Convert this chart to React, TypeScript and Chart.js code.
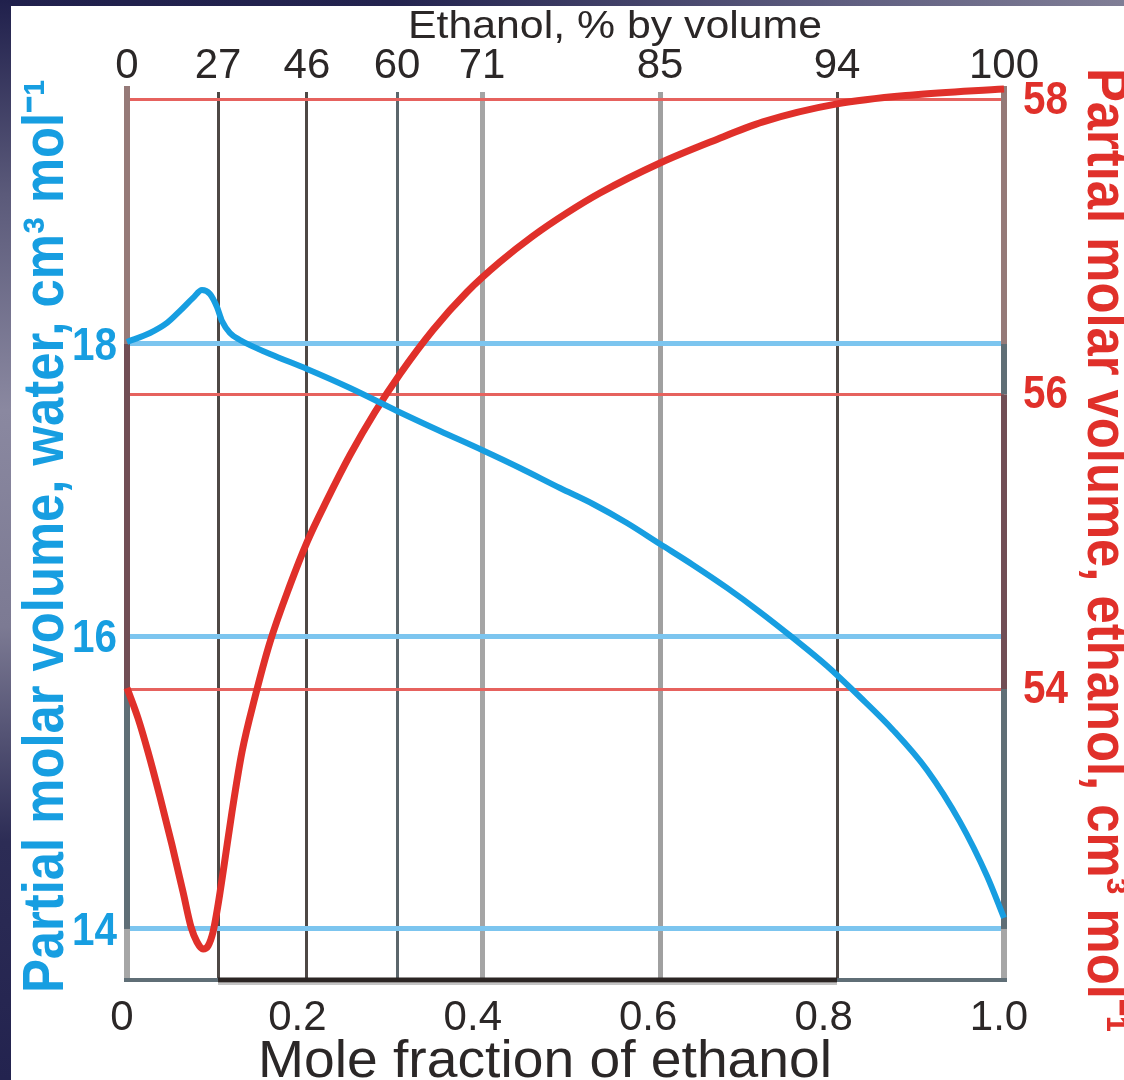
import React, { useEffect, useRef } from "react";
import { Chart, registerables } from "chart.js";

Chart.register(...registerables);

// ---- data ----
const WATER_X = [0, 0.0262, 0.0456, 0.0604, 0.0753, 0.0855, 0.0946, 0.1026, 0.1083, 0.1174, 0.1288, 0.1631, 0.2052, 0.2543, 0.3079, 0.3569, 0.4048, 0.4481, 0.4937, 0.5314, 0.5701, 0.6078, 0.6454, 0.6842, 0.7218, 0.7594, 0.7982, 0.8358, 0.8734, 0.9122, 0.9498, 0.9806, 1.0];
const WATER_V = [18.014, 18.075, 18.144, 18.226, 18.315, 18.369, 18.342, 18.253, 18.157, 18.075, 18.027, 17.932, 17.829, 17.699, 17.542, 17.405, 17.275, 17.152, 17.015, 16.906, 16.776, 16.632, 16.489, 16.332, 16.167, 15.99, 15.798, 15.586, 15.361, 15.087, 14.732, 14.362, 14.075];

const ETHANOL_X = [0, 0.0125, 0.024, 0.0376, 0.0513, 0.0639, 0.073, 0.0798, 0.0867, 0.0924, 0.0981, 0.1038, 0.1106, 0.1197, 0.1311, 0.146, 0.1631, 0.1859, 0.2053, 0.2281, 0.2543, 0.2828, 0.3113, 0.3489, 0.3877, 0.4253, 0.4629, 0.5017, 0.5393, 0.6078, 0.6682, 0.7252, 0.8096, 0.8962, 1.0];
const ETHANOL_V = [54.007, 53.803, 53.572, 53.267, 52.941, 52.621, 52.384, 52.282, 52.234, 52.255, 52.35, 52.533, 52.798, 53.165, 53.572, 53.946, 54.319, 54.706, 54.998, 55.284, 55.589, 55.881, 56.139, 56.438, 56.696, 56.9, 57.076, 57.233, 57.368, 57.572, 57.722, 57.851, 57.973, 58.034, 58.075];

const TOP_TICK_POS = [0, 0.1038, 0.2052, 0.3079, 0.4048, 0.6078, 0.8096, 1];
const TOP_TICK_LABELS = ["0", "27", "46", "60", "71", "85", "94", "100"];
const BOTTOM_TICK_POS = [0, 0.2, 0.4, 0.6, 0.8, 1];
const BOTTOM_TICK_LABELS = ["0", "0.2", "0.4", "0.6", "0.8", "1.0"];
const WATER_TICKS = [14, 16, 18];
const WATER_TICK_LABELS = ["14", "16", "18"];
const ETHANOL_TICKS = [54, 56, 58];
const ETHANOL_TICK_LABELS = ["54", "56", "58"];

const TOP_TITLE = "Ethanol, % by volume";
const BOTTOM_TITLE = "Mole fraction of ethanol";
const LEFT_TITLE = "Partial molar volume, water, cm³ mol⁻¹";
const RIGHT_TITLE = "Partial molar volume, ethanol, cm³ mol⁻¹";

// ---- styles ----
const FAMILY = '"Liberation Sans", Arial, Helvetica, sans-serif';
const BLUE = "#179ee1";
const RED = "#e0302a";
const DARK = "#2b2727";
const TOP_GRID_COLORS = ["rgba(0,0,0,0)", "#4e4845", "#4e4845", "#5b666b", "#a5a5a5", "#a0a0a0", "#4e4845", "rgba(0,0,0,0)"];
const TOP_GRID_WIDTHS = [1, 3, 3, 3, 5, 5, 3, 1];

function drawText(
  ctx: CanvasRenderingContext2D,
  text: string,
  x: number,
  y: number,
  o: { font: string; color: string; rot?: number; align?: CanvasTextAlign; baseline?: CanvasTextBaseline; width?: number; sx?: number }
) {
  ctx.save();
  ctx.font = o.font;
  ctx.fillStyle = o.color;
  ctx.textAlign = o.align || "center";
  ctx.textBaseline = o.baseline || "alphabetic";
  ctx.translate(x, y);
  if (o.rot) ctx.rotate(o.rot);
  let sx = o.sx ?? 1;
  if (o.width) sx = o.width / ctx.measureText(text).width;
  ctx.scale(sx, 1);
  ctx.fillText(text, 0, 0);
  ctx.restore();
  return sx;
}

const framePlugin = {
  id: "frame",
  beforeDatasetsDraw(chart: any) {
    const { ctx, chartArea: a, scales } = chart;
    const yW = scales.yW, yE = scales.yE, xb = scales.x;
    const seg = (x1: number, y1: number, x2: number, y2: number, color: string, w: number) => {
      ctx.save();
      ctx.strokeStyle = color;
      ctx.lineWidth = w;
      ctx.beginPath();
      ctx.moveTo(x1, y1);
      ctx.lineTo(x2, y2);
      ctx.stroke();
      ctx.restore();
    };
    const w18 = yW.getPixelForValue(18), w14 = yW.getPixelForValue(14);
    const e54 = yE.getPixelForValue(54), e56 = yE.getPixelForValue(56);
    const L = a.left, R = a.right;
    // left border
    seg(L, a.top - 6, L, w18, "#967a78", 6);
    seg(L, w18, L, e54, "#714e55", 6);
    seg(L, e54, L, w14, "#5f6e76", 6);
    seg(L, w14, L, a.bottom, "#a6a6a6", 6);
    // right border
    seg(R, a.top - 6, R, w18, "#957a78", 6);
    seg(R, w18, R, e56, "#5f6e76", 6);
    seg(R, e56, R, e54, "#714e55", 6);
    seg(R, e54, R, w14, "#5f6e76", 6);
    seg(R, w14, R, a.bottom, "#a6a6a6", 6);
    // bottom border
    const p27 = xb.getPixelForValue(TOP_TICK_POS[1]);
    const p94 = xb.getPixelForValue(TOP_TICK_POS[6]);
    seg(p27, a.bottom + 4, p94, a.bottom + 4, "#c4c4c4", 2);
    seg(L - 3, a.bottom, p27, a.bottom, "#5f6e76", 4);
    seg(p27, a.bottom, p94, a.bottom, "#2b2523", 5);
    seg(p94, a.bottom, R + 3, a.bottom, "#5f6e76", 4);
  },
  afterDraw(chart: any) {
    const { ctx, chartArea: a, scales } = chart;
    const midY = (a.top + a.bottom) / 2;
    // y tick labels (condensed bold)
    WATER_TICKS.forEach((v, i) => {
      drawText(ctx, WATER_TICK_LABELS[i], a.left - 10, scales.yW.getPixelForValue(v) + 3, {
        font: `bold 47px ${FAMILY}`,
        color: BLUE,
        align: "right",
        baseline: "middle",
        sx: 0.86,
      });
    });
    ETHANOL_TICKS.forEach((v, i) => {
      drawText(ctx, ETHANOL_TICK_LABELS[i], a.right + 19, scales.yE.getPixelForValue(v) + 1, {
        font: `bold 47px ${FAMILY}`,
        color: RED,
        align: "left",
        baseline: "middle",
        sx: 0.86,
      });
    });
    // axis titles
    drawText(ctx, TOP_TITLE, 615, 38, { font: `39px ${FAMILY}`, color: DARK, width: 414 });
    drawText(ctx, BOTTOM_TITLE, 545, 1077, { font: `51px ${FAMILY}`, color: DARK, width: 574 });
    const sx = drawText(ctx, LEFT_TITLE, 63, midY, {
      font: `bold 57px ${FAMILY}`,
      color: BLUE,
      rot: -Math.PI / 2,
      width: 914,
    });
    drawText(ctx, RIGHT_TITLE, 1088, 68, {
      font: `bold 57px ${FAMILY}`,
      color: RED,
      rot: Math.PI / 2,
      align: "left",
      sx,
    });
  },
};

export default function App() {
  const ref = useRef<HTMLCanvasElement | null>(null);

  useEffect(() => {
    if (!ref.current) return;
    const waterData = WATER_X.map((x, i) => ({ x, y: WATER_V[i] }));
    const ethanolData = ETHANOL_X.map((x, i) => ({ x, y: ETHANOL_V[i] }));

    const chart = new Chart(ref.current, {
      type: "line",
      data: {
        datasets: [
          {
            label: "Water",
            data: waterData,
            xAxisID: "x",
            yAxisID: "yW",
            borderColor: BLUE,
            borderWidth: 6,
            pointRadius: 0,
            cubicInterpolationMode: "monotone",
            borderJoinStyle: "round",
            fill: false,
            clip: 8,
          },
          {
            label: "Ethanol",
            data: ethanolData,
            xAxisID: "x",
            yAxisID: "yE",
            borderColor: RED,
            borderWidth: 7,
            pointRadius: 0,
            cubicInterpolationMode: "monotone",
            borderJoinStyle: "round",
            fill: false,
            clip: 8,
          },
        ],
      },
      options: {
        responsive: false,
        animation: false,
        devicePixelRatio: 1,
        layout: { padding: 0 },
        plugins: { legend: { display: false }, tooltip: { enabled: false } },
        scales: {
          x: {
            type: "linear",
            position: "bottom",
            min: 0,
            max: 1,
            afterBuildTicks: (s: any) => {
              s.ticks = BOTTOM_TICK_POS.map((v) => ({ value: v }));
            },
            afterFit: (s: any) => {
              s.height = 100;
            },
            ticks: {
              callback: (_v: any, i: number) => BOTTOM_TICK_LABELS[i],
              font: { family: FAMILY, size: 42, lineHeight: 1 },
              color: DARK,
              padding: 9,
              labelOffset: -5,
              maxRotation: 0,
              autoSkip: false,
            },
            grid: { display: false },
            border: { display: false },
          },
          xTop: {
            type: "linear",
            position: "top",
            min: 0,
            max: 1,
            afterBuildTicks: (s: any) => {
              s.ticks = TOP_TICK_POS.map((v) => ({ value: v }));
            },
            afterFit: (s: any) => {
              s.height = 92;
            },
            ticks: {
              callback: (_v: any, i: number) => TOP_TICK_LABELS[i],
              font: { family: FAMILY, size: 42, lineHeight: 1 },
              color: DARK,
              padding: 5,
              maxRotation: 0,
              autoSkip: false,
            },
            grid: {
              drawTicks: false,
              color: (c: any) => TOP_GRID_COLORS[c.index] || "rgba(0,0,0,0)",
              lineWidth: (c: any) => TOP_GRID_WIDTHS[c.index] || 1,
            },
            border: { display: false },
          },
          yW: {
            type: "linear",
            position: "left",
            min: 13.651,
            max: 19.723,
            afterBuildTicks: (s: any) => {
              s.ticks = WATER_TICKS.map((v) => ({ value: v }));
            },
            afterFit: (s: any) => {
              s.width = 127;
            },
            ticks: { display: false },
            grid: { drawTicks: false, color: "#7cc5ef", lineWidth: 5 },
            border: { display: false },
          },
          yE: {
            type: "linear",
            position: "right",
            min: 52.024,
            max: 58.054,
            afterBuildTicks: (s: any) => {
              s.ticks = ETHANOL_TICKS.map((v) => ({ value: v }));
            },
            afterFit: (s: any) => {
              s.width = 120;
            },
            ticks: { display: false },
            grid: { drawTicks: false, color: "#e6625e", lineWidth: 3 },
            border: { display: false },
          },
        },
      },
      plugins: [framePlugin],
    } as any);

    return () => chart.destroy();
  }, []);

  return (
    <div style={{ position: "absolute", left: 0, top: 0, width: 1124, height: 1080, background: "#ffffff", overflow: "hidden" }}>
      <div
        style={{
          position: "absolute",
          left: 0,
          top: 0,
          width: 1124,
          height: 6,
          background: "linear-gradient(90deg, #20204c 0%, #23234f 35%, #5f5e80 75%, #807e96 100%)",
        }}
      />
      <div
        style={{
          position: "absolute",
          left: 0,
          top: 0,
          width: 11,
          height: 1080,
          background:
            "linear-gradient(180deg, #20204c 0%, #5b5a7a 18%, #8a88a0 38%, #7c7a93 58%, #2c2c55 78%, #23234f 100%)",
        }}
      />
      <canvas ref={ref} width={1124} height={1080} style={{ position: "absolute", left: 0, top: 0, display: "block" }} />
    </div>
  );
}
